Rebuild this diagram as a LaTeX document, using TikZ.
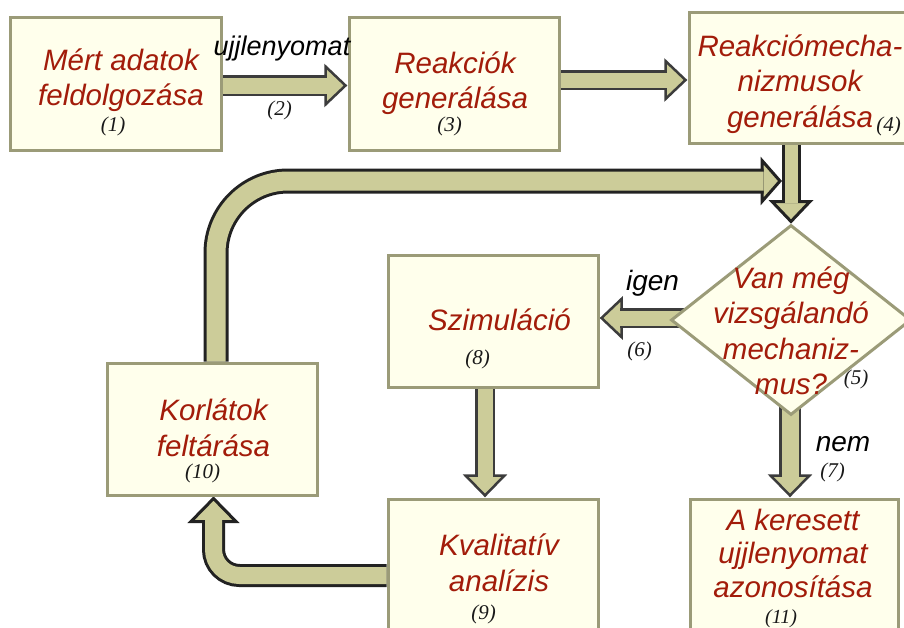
\documentclass[tikz,border=0pt]{standalone}
\usepackage{fontspec}
\setmainfont{Liberation Sans}
\newfontfamily\numfont{Liberation Serif}
\usetikzlibrary{calc,shapes.geometric,backgrounds}
\definecolor{boxfill}{HTML}{FFFFEC}
\definecolor{boxline}{HTML}{9B9B78}
\definecolor{khaki}{HTML}{CCCC99}
\definecolor{arrgray}{HTML}{3C3C3C}
\definecolor{arrblack}{HTML}{222222}
\definecolor{textred}{HTML}{A21C0A}
\tikzset{
  box/.style={draw=boxline, fill=boxfill, line width=3pt, inner sep=0pt},
  maintext/.style={text=textred, font=\itshape\fontsize{29.5}{35.5}\selectfont, align=center, inner sep=0pt},
  numtext/.style={font=\numfont\itshape\fontsize{21}{24}\selectfont, text=black!90, inner sep=0pt, anchor=base},
  labeltext/.style={font=\itshape\fontsize{28}{32}\selectfont, text=black, inner sep=0pt, anchor=base},
  shaftg/.style={draw=arrgray, line width=2.5pt, double=khaki, double distance=#1},
  shaftb/.style={draw=arrblack, line width=3pt, double=khaki, double distance=#1},
  headg/.style={draw=arrgray, fill=khaki, line width=2.5pt, line join=miter},
  headb/.style={draw=arrblack, fill=khaki, line width=3pt, line join=miter}
}
% #1 point behind the head, #2 tip, #3 head length, #4 head half width, #5 style
\newcommand{\ahead}[5]{%
  \path ($(#2)!#3!(#1)$) coordinate (ahb);
  \filldraw[#5] ($(ahb)!#4!90:(#2)$) -- (#2) -- ($(ahb)!#4!-90:(#2)$) -- cycle;
}
\begin{document}
\begin{tikzpicture}[x=1pt,y=-1pt]
\useasboundingbox (0,0) rectangle (904,627);
\clip (0,0) rectangle (904,627);

% boxes
\node[box, minimum width=211pt, minimum height=133pt] (b1) at (115.5,83.5) {};
\node[box, minimum width=210pt, minimum height=133pt] (b3) at (454,83.5) {};
\node[box, minimum width=216pt, minimum height=131pt] (b4) at (797,77.5) {};
\node[box, diamond, minimum width=240pt, minimum height=190pt] (d5) at (791,320) {};
\node[box, minimum width=210pt, minimum height=132pt] (b8) at (493,321) {};
\node[box, minimum width=210pt, minimum height=132pt] (b10) at (212,429) {};
\node[box, minimum width=210pt, minimum height=133pt] (b9) at (493,565.5) {};
\node[box, minimum width=208pt, minimum height=133pt] (b11) at (794,565.5) {};

% texts
\node[maintext] (t1) at (121,80) {Mért adatok\\feldolgozása};
\node[numtext] (n1) at (113,131) {(1)};
\node[labeltext, font=\itshape\fontsize{27}{32}\selectfont] (l2) at (282,55) {ujjlenyomat};
\node[numtext] (n2) at (279.5,115) {(2)};
\node[maintext] (t3) at (455,83) {Reakciók\\generálása};
\node[numtext] (n3) at (449.5,131) {(3)};
\node[maintext] (t4) at (800,84) {Reakciómecha-\\nizmusok\\generálása};
\node[numtext] (n4) at (888.5,131) {(4)};
\node[maintext] (t5) at (791,331) {Van még\\vizsgálandó\\mechaniz-\\mus?};
\node[numtext] (n5) at (856,384) {(5)};
\node[labeltext] (l6) at (652.5,290) {igen};
\node[numtext] (n6) at (639.5,356) {(6)};
\node[labeltext] (l7) at (843,451) {nem};
\node[numtext] (n7) at (832.5,477) {(7)};
\node[maintext, anchor=base] (t8) at (499.5,330) {Szimuláció};
\node[numtext] (n8) at (477.5,364) {(8)};
\node[maintext] (t9) at (499,563) {Kvalitatív\\analízis};
\node[numtext] (n9) at (483.5,619) {(9)};
\node[maintext] (t10) at (213.5,428) {Korlátok\\feltárása};
\node[numtext] (n10) at (202.5,478) {(10)};
\node[maintext, font=\itshape\fontsize{29.5}{33.5}\selectfont] (t11) at (793,553) {A keresett\\ujjlenyomat\\azonosítása};
\node[numtext, font=\numfont\itshape\fontsize{20}{24}\selectfont] (n11) at (781,623) {(11)};

\begin{pgfonlayer}{background}
  % (2): 1 -> 3
  \coordinate (s2) at ($(b1.east)+(0,2)$);
  \coordinate (e2) at ($(b3.west)+(-2,2)$);
  \ahead{s2}{e2}{20pt}{19pt}{headg}
  \draw[shaftg=16pt] (s2) -- ($(e2)!18.75pt!(s2)$);
  % 3 -> 4
  \coordinate (s34) at ($(b3.east)+(0,-3.5)$);
  \coordinate (e34) at ($(b4.west)+(-2,2.5)$);
  \ahead{s34}{e34}{20pt}{19pt}{headg}
  \draw[shaftg=15pt] (s34) -- ($(e34)!18.75pt!(s34)$);
  % 4 -> 5
  \coordinate (s45) at (b4.south -| d5.north);
  \coordinate (e45) at ($(d5.north)+(0,-2)$);
  \ahead{s45}{e45}{20pt}{19pt}{headb}
  \draw[shaftb=13pt] (s45) -- ($(e45)!18.5pt!(s45)$);
  % loop 10 -> 4/5
  \coordinate (sl) at ($(b10.north)+(4,0)$);
  \coordinate (el) at ($(s45)+(-11,36.5)$);
  \coordinate (cl) at (sl |- el);
  \ahead{cl}{el}{18pt}{20.5pt}{headb}
  \draw[shaftb=19pt, rounded corners=72pt] (sl) |- ($(el)+(-16.5,0)$);
  % (6): 5 -> 8
  \coordinate (s58) at ($(d5.west)+(15,-2)$);
  \coordinate (e58) at ($(b8.east)+(2,-3)$);
  \ahead{s58}{e58}{20pt}{19pt}{headg}
  \draw[shaftg=15pt] (s58) -- ($(e58)!18.75pt!(s58)$);
  % 8 -> 9
  \coordinate (s89) at ($(b8.south)+(-8,0)$);
  \coordinate (e89) at ($(b9.north)+(-8,-2)$);
  \ahead{s89}{e89}{20pt}{19.5pt}{headg}
  \draw[shaftg=15pt] (s89) -- ($(e89)!18.75pt!(s89)$);
  % (7): 5 -> 11
  \coordinate (s511) at ($(d5.south)+(-1,-15)$);
  \coordinate (e511) at ($(b11.north)+(-4,-2)$);
  \ahead{s511}{e511}{20pt}{19.5pt}{headg}
  \draw[shaftg=17pt] (s511) -- ($(e511)!18.75pt!(s511)$);
  % 9 -> 10
  \coordinate (s910) at ($(b9.west)+(0,10)$);
  \coordinate (e910) at ($(b10.south)+(1.5,2)$);
  \coordinate (c910) at (e910 |- s910);
  \ahead{c910}{e910}{23pt}{22.5pt}{headb}
  \draw[shaftb=17pt, rounded corners=26pt] (s910) -| ($(e910)+(0,21.5)$);
\end{pgfonlayer}
\end{tikzpicture}
\end{document}
